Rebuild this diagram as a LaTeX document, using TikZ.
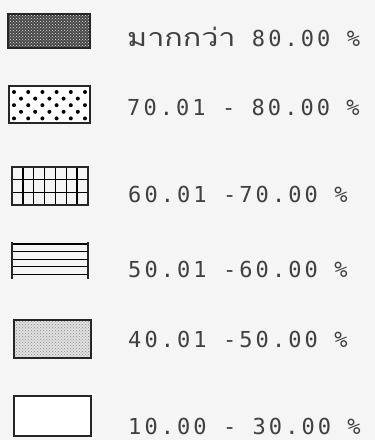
\documentclass[tikz,border=0pt]{standalone}
\usepackage{fontspec}
\newfontfamily\legfont[LetterSpace=14]{DejaVu Sans Mono}
\newfontfamily\thaifont[Script=Thai]{Loma}
\usetikzlibrary{patterns}

\begin{document}
\begin{tikzpicture}[x=1pt, y=-1pt,
    every node/.style={anchor=west, inner sep=0pt, text=black!75},
    legtext/.style={font=\legfont\fontsize{22}{24}\selectfont},
    legbox/.style={draw=black!85, line width=1.6pt}]
  \fill[black!4] (0,0) rectangle (375,440);
  \useasboundingbox (0,0) rectangle (375,440);

  % more than 80
  \fill[black!72] (8,14) rectangle (90,48);
  \fill[pattern=crosshatch dots, pattern color=white!90!black] (8,14) rectangle (90,48);
  \draw[legbox] (8,14) rectangle (90,48);
  \node[legtext] (more) at (127,37) {\scalebox{1.22}[1]{\thaifont\fontsize{25}{27}\selectfont มากกว่า} 80.00 \%};

  % 70 - 80
  \fill[white] (9,86) rectangle (90,123);
  \foreach \j in {0,2,4}
    \foreach \i in {0,...,5}
      \fill[black] ({14+14.2*\i},{92+6.6*\j}) circle (2);
  \foreach \j in {1,3}
    \foreach \i in {0,...,4}
      \fill[black] ({21+14.2*\i},{92+6.6*\j}) circle (2);
  \draw[legbox] (9,86) rectangle (90,123);
  \node[legtext] (r70) at (127,107) {70.01 - 80.00 \%};

  % 60 - 70
  \foreach \i in {1,...,6}
    \draw[line width=1.4pt] ({12+76/7*\i},167) -- ({12+76/7*\i},205);
  \foreach \j in {1,2}
    \draw[line width=1.4pt] (12,{167+38/3*\j}) -- (88,{167+38/3*\j});
  \draw[legbox] (12,167) rectangle (88,205);
  \node[legtext] (r60) at (128,194) {60.01 -70.00 \%};

  % 50 - 60
  \foreach \j in {0,...,4}
    \draw[line width=1.3pt] (12,{244+7.6*\j}) -- (88,{244+7.6*\j});
  \draw[legbox] (12,242) -- (12,279);
  \draw[legbox] (88,242) -- (88,279);
  \node[legtext] (r50) at (128,269) {50.01 -60.00 \%};

  % 40 - 50
  \fill[black!12] (14,320) rectangle (91,358);
  \fill[pattern=crosshatch dots, pattern color=black!45] (14,320) rectangle (91,358);
  \draw[legbox] (14,320) rectangle (91,358);
  \node[legtext] (r40) at (128,339) {40.01 -50.00 \%};

  % 10 - 30
  \draw[legbox, fill=white] (14,396) rectangle (91,436);
  \node[legtext] (r10) at (128,426) {10.00 - 30.00 \%};
\end{tikzpicture}
\end{document}
